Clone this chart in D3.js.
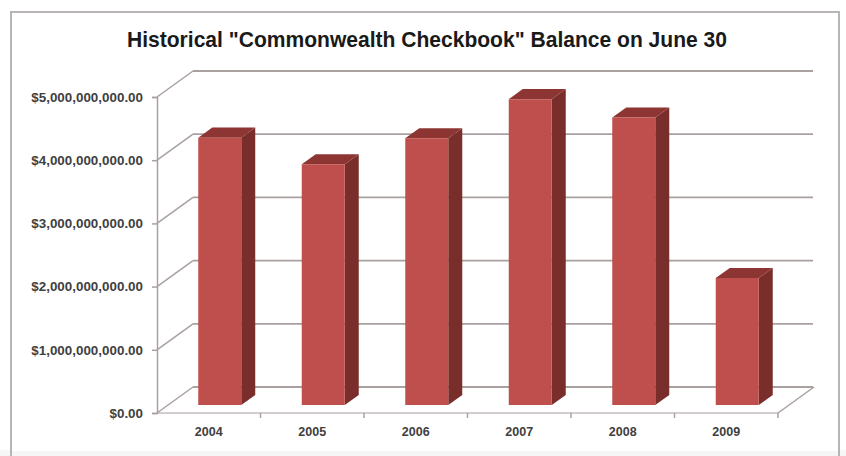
<!DOCTYPE html>
<html><head><meta charset="utf-8">
<script src="https://cdn.jsdelivr.net/npm/d3@7"></script>
<style>
html,body{margin:0;padding:0;background:#fff;}
svg{display:block;}
</style></head>
<body>
<svg id="chart" width="846" height="456"></svg>
<script>
const categories = ["2004","2005","2006","2007","2008","2009"];
const values = [4230000000, 3810000000, 4220000000, 4840000000, 4550000000, 2010000000];
const yTicks = [0, 1000000000, 2000000000, 3000000000, 4000000000, 5000000000];
const chartTitle = "Historical \"Commonwealth Checkbook\" Balance on June 30";

(function(){
const svg = d3.select("#chart");

// frame: light bottom band, then left/top/right border
svg.append("rect").attr("x",0).attr("y",450).attr("width",846).attr("height",6).attr("fill","#f6f6f6");
svg.append("rect").attr("x",11).attr("y",12).attr("width",828).attr("height",439).attr("fill","#fff");
svg.append("path").attr("d","M11,456 L11,12 L839,12 L839,456")
  .attr("fill","none").attr("stroke","#b8b4b4").attr("stroke-width",2);

// geometry
const left = 157, right = 778, depthX = 36, depthY = -26;
const x = d3.scaleBand().domain(categories).range([left, right]).padding(0);
const y = d3.scaleLinear().domain([0, 5000000000]).range([413, 97]);
const proj = (px, v, z) => [px + z * depthX, y(v) + z * depthY];

const grid = "#aaa0a0";
const g = svg.append("g");

// back wall gridlines and side wall diagonals
yTicks.forEach(t => {
  const a = proj(left, t, 0), b = proj(left, t, 1), c = [813, y(t) + depthY];
  g.append("line").attr("x1",a[0]).attr("y1",a[1]).attr("x2",b[0]).attr("y2",b[1])
    .attr("stroke",grid).attr("stroke-width",1.5);
  g.append("line").attr("x1",b[0]).attr("y1",b[1]).attr("x2",c[0]).attr("y2",c[1])
    .attr("stroke",grid).attr("stroke-width",1.8);
});
// floor front and right edges
{
  const a = proj(left, 0, 0), b = proj(right, 0, 0), c = proj(right, 0, 1);
  g.append("line").attr("x1",a[0]).attr("y1",a[1]).attr("x2",b[0]).attr("y2",b[1])
    .attr("stroke","#c4bcbc").attr("stroke-width",1.5);
  g.append("line").attr("x1",b[0]).attr("y1",b[1]).attr("x2",c[0]).attr("y2",c[1])
    .attr("stroke",grid).attr("stroke-width",1.5);
}
// category boundary ticks
categories.forEach((c) => {
  const px = x(c) + x.bandwidth();
  g.append("line").attr("x1",px).attr("y1",413).attr("x2",px).attr("y2",418)
    .attr("stroke",grid).attr("stroke-width",1.5);
});

// y axis
const yAxis = svg.append("g").attr("transform",`translate(${left},0)`)
  .call(d3.axisLeft(y).tickValues(yTicks).tickSize(5).tickPadding(8).tickFormat(d3.format("$,.2f")));
yAxis.select(".domain").attr("stroke",grid).attr("stroke-width",1.5);
yAxis.selectAll(".tick line").attr("stroke",grid).attr("stroke-width",1.5);
yAxis.selectAll(".tick text").attr("font-family","'Liberation Sans', Arial, sans-serif")
  .attr("font-size",13.4).attr("font-weight","bold").attr("fill","#404040").attr("dx",-1);

// x axis
const xAxis = svg.append("g").attr("transform",`translate(0,413)`)
  .call(d3.axisBottom(x).tickSize(0).tickPadding(14));
xAxis.select(".domain").remove();
xAxis.selectAll(".tick text").attr("font-family","'Liberation Sans', Arial, sans-serif")
  .attr("font-size",12.5).attr("font-weight","bold").attr("fill","#404040");

// bars
const z0 = 11/36, z1 = 25/36;
const barW = 43;
const frontCol = "#be4f4c", sideCol = "#7a2e2c", topCol = "#8d3532";
const bars = svg.append("g");
categories.forEach((c, i) => {
  const v = values[i];
  const cx = x(c) + x.bandwidth()/2;
  const x0 = cx - barW/2, x1 = cx + barW/2;
  const fBL = proj(x0, 0, z0), fBR = proj(x1, 0, z0), fTL = proj(x0, v, z0), fTR = proj(x1, v, z0);
  const bBR = proj(x1, 0, z1), bTL = proj(x0, v, z1), bTR = proj(x1, v, z1);
  const pts = a => a.map(p => p.join(",")).join(" ");
  bars.append("polygon").attr("points", pts([fBR, bBR, bTR, fTR])).attr("fill", sideCol);
  bars.append("polygon").attr("points", pts([fTL, fTR, bTR, bTL])).attr("fill", topCol);
  bars.append("polygon").attr("points", pts([fBL, fBR, fTR, fTL])).attr("fill", frontCol);
});

// title
svg.append("text").attr("x",427).attr("y",47).attr("text-anchor","middle")
  .attr("font-family","'Liberation Sans', Arial, sans-serif").attr("font-weight","bold")
  .attr("font-size",22).attr("fill","#1a1a1a")
  .attr("textLength",600).attr("lengthAdjust","spacingAndGlyphs")
  .text(chartTitle);
})();
</script>
</body></html>
